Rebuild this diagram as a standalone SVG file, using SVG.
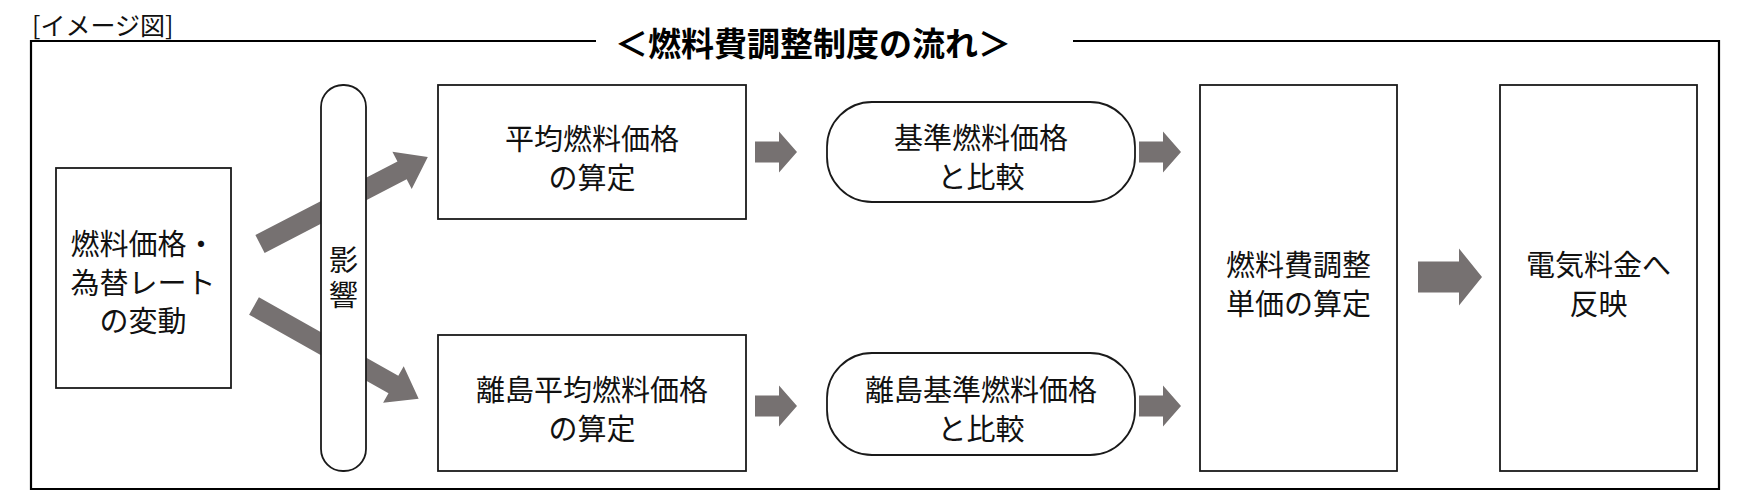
<svg xmlns="http://www.w3.org/2000/svg" width="1753" height="492" viewBox="0 0 1753 492">
<style>
.box{fill:#fff;stroke:#1a1a1a;stroke-width:1.8}
.frame{fill:none;stroke:#000;stroke-width:2.2}
.t{font-family:"Noto Sans CJK JP","Noto Sans",sans-serif;font-size:29px;fill:#111;text-anchor:middle;dominant-baseline:central}
.arr{fill:#767171}
</style>
<defs>
<path id="sa" d="M0,-10.5 H24 V-20.5 L42,0 L24,20.5 V10.5 H0 Z"/>
<path id="da" d="M0,-10 H160 V-21 L189,0 L160,21 V10 H0 Z"/>
</defs>
<rect width="1753" height="492" fill="#fff"/>
<text x="32" y="24" style="font-family:'Noto Sans CJK JP',sans-serif;font-size:25px;fill:#111;dominant-baseline:central">[イメージ図]</text>
<g id="frame">
<path class="frame" d="M596,41 H31 V489 H1719 V41 H1073"/>
<text x="813" y="42" style="font-family:'Noto Sans CJK JP',sans-serif;font-size:33px;font-weight:bold;fill:#000;text-anchor:middle;dominant-baseline:central">＜燃料費調整制度の流れ＞</text>
</g>
<g id="connectors">
<use href="#da" class="arr" transform="translate(260,244) rotate(-27.4)"/>
<use href="#da" class="arr" transform="translate(254,306) rotate(29.4)"/>
<use href="#sa" class="arr" transform="translate(755,152)"/>
<use href="#sa" class="arr" transform="translate(1139,152)"/>
<use href="#sa" class="arr" transform="translate(755,406)"/>
<use href="#sa" class="arr" transform="translate(1139,406)"/>
<path class="arr" d="M1418,261.5 H1459 V248.5 L1482,277 L1459,305.5 V292.5 H1418 Z"/>
</g>
<g id="n-hendo">
<rect class="box" x="56" y="168" width="175" height="220"/>
<text class="t" x="143" y="242">燃料価格・</text>
<text class="t" x="143" y="281">為替レート</text>
<text class="t" x="143" y="319">の変動</text>
</g>
<g id="n-eikyo">
<rect class="box" x="321" y="85" width="45" height="386" rx="22" ry="22"/>
<text x="343.5" y="280" style="font-family:'Noto Sans CJK JP',sans-serif;font-size:29px;fill:#111;writing-mode:vertical-rl;text-anchor:middle;letter-spacing:6px">影響</text>
</g>
<g id="n-heikin">
<rect class="box" x="438" y="85" width="308" height="134"/>
<text class="t" x="592" y="137">平均燃料価格</text>
<text class="t" x="592" y="176">の算定</text>
</g>
<g id="n-ritou-heikin">
<rect class="box" x="438" y="335" width="308" height="136"/>
<text class="t" x="592" y="388">離島平均燃料価格</text>
<text class="t" x="592" y="427">の算定</text>
</g>
<g id="n-kijun">
<rect class="box" x="827" y="102" width="308" height="100" rx="45" ry="45"/>
<text class="t" x="981" y="136">基準燃料価格</text>
<text class="t" x="981" y="175">と比較</text>
</g>
<g id="n-ritou-kijun">
<rect class="box" x="827" y="353" width="308" height="102" rx="45" ry="45"/>
<text class="t" x="981" y="388">離島基準燃料価格</text>
<text class="t" x="981" y="427">と比較</text>
</g>
<g id="n-tanka">
<rect class="box" x="1200" y="85" width="197" height="386"/>
<text class="t" x="1298.5" y="263">燃料費調整</text>
<text class="t" x="1298.5" y="302">単価の算定</text>
</g>
<g id="n-ryokin">
<rect class="box" x="1500" y="85" width="197" height="386"/>
<text class="t" x="1598.5" y="263">電気料金へ</text>
<text class="t" x="1598.5" y="302">反映</text>
</g>
</svg>
